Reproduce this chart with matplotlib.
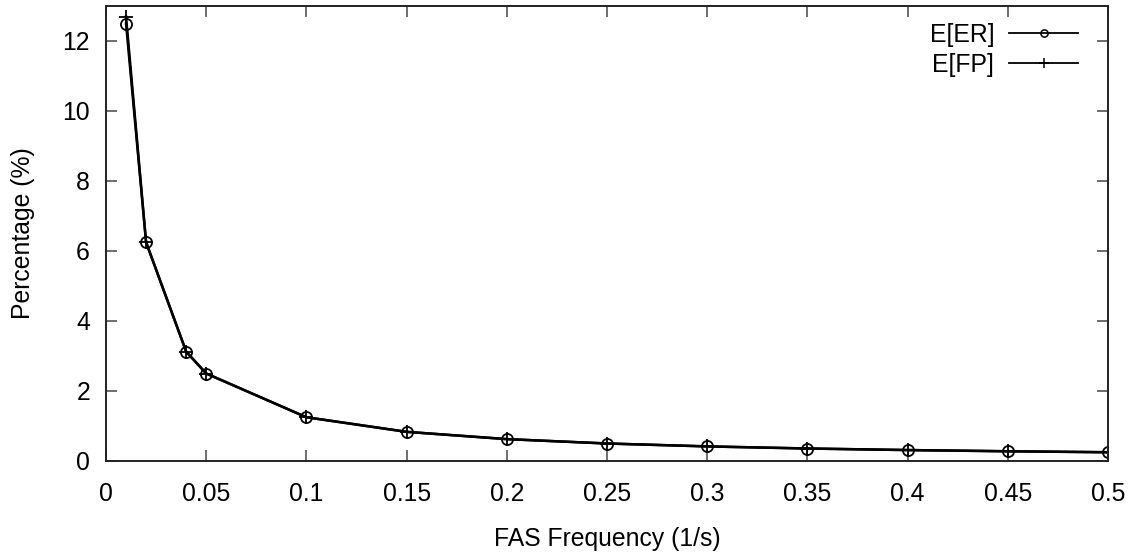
import matplotlib
matplotlib.use("Agg")
import matplotlib.pyplot as plt

plt.rcParams['font.family'] = ['Liberation Sans', 'DejaVu Sans']

freq = [0.01, 0.02, 0.04, 0.05, 0.1, 0.15, 0.2, 0.25, 0.3, 0.35, 0.4, 0.45, 0.5]
er = [12.5, 6.25, 3.125, 2.5, 1.25, 0.833, 0.625, 0.5, 0.417, 0.357, 0.3125, 0.278, 0.25]
fp = [12.7, 6.25, 3.125, 2.5, 1.25, 0.833, 0.625, 0.5, 0.417, 0.357, 0.3125, 0.278, 0.25]
xticks = [0, 0.05, 0.1, 0.15, 0.2, 0.25, 0.3, 0.35, 0.4, 0.45, 0.5]
xticklabels = ['0', '0.05', '0.1', '0.15', '0.2', '0.25', '0.3', '0.35', '0.4', '0.45', '0.5']
yticks = [0, 2, 4, 6, 8, 10, 12]

FS = 17.8

fig = plt.figure(figsize=(11.42, 5.54), dpi=100)
ax = fig.add_axes([106 / 1142, 1 - 461 / 554, (1108 - 106) / 1142, (461 - 6) / 554])

ax.plot(freq, er, color='black', lw=1.8, marker='o', mfc='none', mec='black',
        ms=8, mew=1.3, label='E[ER]')
ax.plot(freq, fp, color='black', lw=1.8, marker='+', ms=10, mew=1.3, label='E[FP]')

ax.set_xlim(0, 0.5)
ax.set_ylim(0, 13)
ax.set_xticks(xticks)
ax.set_xticklabels(xticklabels)
ax.set_yticks(yticks)
ax.tick_params(direction='in', length=8, width=1.2, color='#555555',
               top=True, right=True, labelsize=FS)
ax.tick_params(axis='x', pad=15)
ax.tick_params(axis='y', pad=11.5)
for s in ax.spines.values():
    s.set_color('#222222')
    s.set_linewidth(1.4)

ax.set_xlabel('FAS Frequency (1/s)', fontsize=FS, labelpad=15)
ax.set_ylabel('Percentage (%)', fontsize=FS, labelpad=20)

leg = ax.legend(loc='upper right', bbox_to_anchor=(1.0, 1.028),
                markerfirst=False, frameon=False, fontsize=FS,
                handlelength=2.8, handletextpad=0.6, labelspacing=0.25,
                borderaxespad=0.8, markerscale=0.65)
for t in leg.get_texts():
    t.set_ha('right')
for ln in leg.get_lines():
    ln.set_linewidth(1.3)
    ln.set_markeredgewidth(1.1)

fig.savefig('out.png', dpi=100)
